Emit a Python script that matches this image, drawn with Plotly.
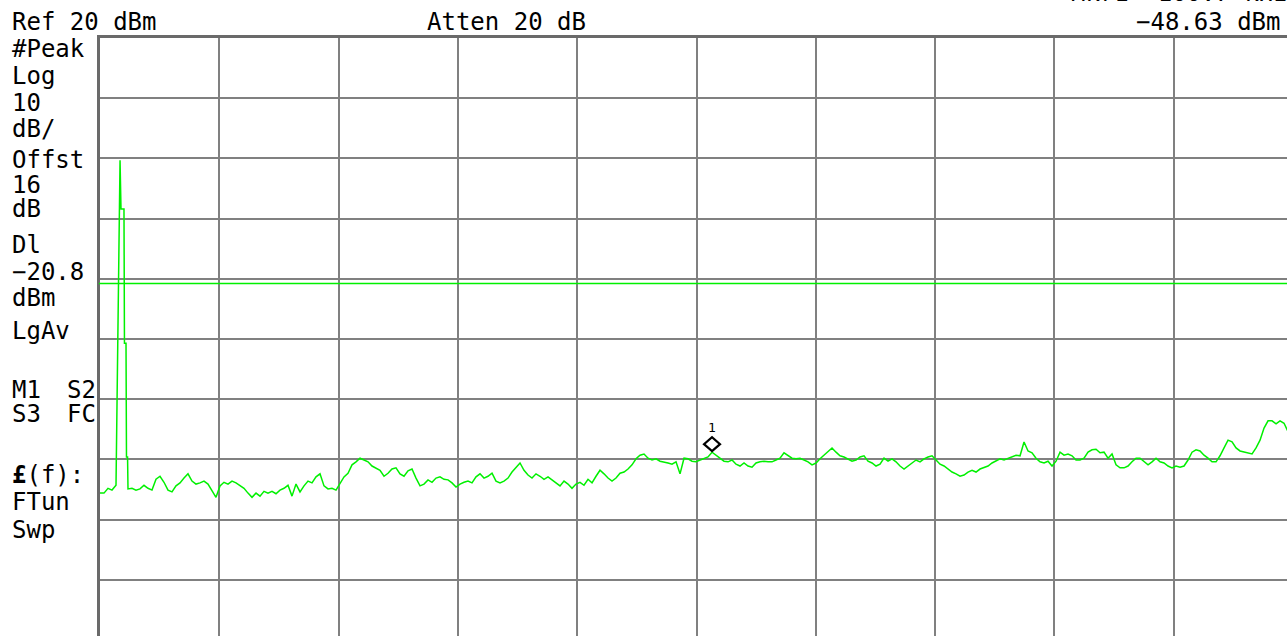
import numpy as np
import plotly.graph_objects as go

# ---------------- data ----------------
ref_level_dbm = 20
db_per_div = 10
display_line_dbm = -20.8
marker_freq_div = 5.13
marker_level_dbm = -48.63
marker_readout = "−48.63 dBm"
marker_header = "Mkr1  100.7 kHz"

bin_step_div = 0.03353          # spacing of trace bins (divisions)

left_noise_dbm = [-55.6, -55.6, -54.8, -55.1, -54.3]

carrier_freq_div = [0.168, 0.176, 0.201, 0.205, 0.218, 0.222, 0.231]
carrier_dbm = [-0.3, -8.4, -8.4, -30.7, -30.7, -49.6, -49.6]

main_start_div = 0.2347
main_noise_dbm = [
    -54.9, -54.8, -55.1, -54.9, -54.3, -54.8, -55.1, -53.3, -52.8, -53.8,
    -55.1, -55.4, -54.4, -53.9, -53.1, -52.4, -53.6, -54.1, -53.9, -53.6,
    -54.1, -55.1, -56.3, -54.4, -53.8, -54.1, -53.6, -53.9, -54.4, -54.8,
    -55.6, -56.3, -55.6, -56.1, -55.3, -55.6, -55.3, -55.7, -55.1, -54.8,
    -54.3, -56.1, -54.1, -55.4, -54.4, -53.6, -53.9, -52.9, -52.4, -54.4,
    -54.9, -54.8, -55.1, -54.1, -52.9, -52.3, -50.9, -50.4, -49.8, -50.1,
    -50.4, -51.1, -51.4, -51.8, -52.8, -52.3, -51.6, -51.4, -52.4, -52.8,
    -51.9, -51.6, -53.1, -54.4, -54.1, -53.4, -53.8, -53.1, -52.9, -53.3,
    -53.4, -53.9, -54.6, -54.1, -53.8, -53.6, -53.9, -52.9, -52.4, -53.1,
    -52.8, -52.3, -53.6, -53.9, -53.6, -53.1, -52.1, -51.4, -50.6, -51.8,
    -52.6, -53.1, -52.4, -52.8, -53.3, -52.9, -53.4, -53.9, -54.4, -53.6,
    -54.1, -54.8, -54.1, -53.8, -54.3, -53.3, -53.9, -52.8, -51.8, -52.4,
    -53.1, -53.6, -53.1, -52.3, -52.1, -51.6, -50.9, -49.9, -49.3, -49.1,
    -49.8, -50.1, -49.9, -50.3, -50.4, -50.6, -50.8, -50.4, -52.4, -49.8,
    -49.9, -50.3, -50.4, -50.1, -49.8, -49.6, -48.8, -49.3, -49.9, -50.3,
    -50.4, -50.1, -50.8, -51.1, -50.6, -51.1, -51.3, -50.6, -50.4, -50.3,
    -50.4, -50.4, -50.1, -49.8, -48.9, -49.3, -49.8, -49.9, -49.8, -50.1,
    -50.4, -50.9, -50.6, -49.9, -49.3, -48.6, -48.1, -48.8, -49.4, -49.6,
    -49.9, -50.3, -50.1, -49.6, -49.4, -50.3, -50.6, -51.1, -50.8, -49.8,
    -50.3, -49.9, -50.4, -51.1, -51.6, -51.1, -50.6, -50.1, -50.4, -49.9,
    -49.6, -49.4, -50.1, -50.8, -51.1, -51.6, -52.1, -52.4, -52.8, -52.6,
    -52.1, -51.8, -52.1, -51.6, -51.4, -51.1, -50.6, -50.3, -49.9, -50.1,
    -49.8, -49.6, -49.3, -49.4, -47.1, -48.6, -48.9, -49.8, -50.4, -50.6,
    -50.3, -51.1, -50.3, -48.8, -49.3, -49.1, -49.4, -50.1, -50.1, -49.8,
    -48.8, -48.4, -48.3, -48.9, -48.8, -49.8, -49.1, -50.9, -51.4, -51.4,
    -51.1, -50.4, -49.8, -49.8, -50.4, -50.9, -50.4, -49.8, -50.4, -50.6,
    -51.1, -51.4, -51.1, -51.3, -51.1, -50.1, -48.8, -48.4, -48.6, -49.3,
    -49.8, -50.4, -50.4, -49.4, -48.1, -46.8, -47.1, -48.1, -48.6, -48.8,
    -48.9, -49.1, -48.1, -46.8, -44.8, -43.6, -43.6, -44.1, -43.6, -44.0,
    -45.4,
]

left_labels = ["#Peak", "Log", "10", "dB/", "Offst", "16", "dB", "Dl",
               "−20.8", "dBm", "LgAv", "M1", "S3", "<b>£</b>(f):", "FTun", "Swp"]
right_col_labels = ["S2", "FC"]
header_left = "Ref 20 dBm"
header_mid = "Atten 20 dB"

# ---------------- layout constants ----------------
FIG_W, FIG_H = 1287, 636
L, T = 100, 38
PX_PER_DIV_X = 119.3
PX_PER_DB = 6.02
PW, PH = FIG_W - L, FIG_H - T

x_max = PW / PX_PER_DIV_X
y_min = ref_level_dbm - PH / PX_PER_DB

def px(x):
    return (x - L) / PW

def py(y):
    return 1 - (y - T) / PH

left_freq = np.arange(len(left_noise_dbm)) * bin_step_div
main_freq = main_start_div + np.arange(len(main_noise_dbm)) * bin_step_div
trace_x = np.concatenate([left_freq, carrier_freq_div, main_freq])
trace_y = np.concatenate([left_noise_dbm, carrier_dbm, main_noise_dbm])

GREEN = "#00f000"
fig = go.Figure()
fig.add_trace(go.Scatter(x=trace_x, y=trace_y, mode="lines",
                         line=dict(color=GREEN, width=1.5), hoverinfo="skip"))

fig.add_shape(type="line", xref="paper", yref="y", x0=-0.001, x1=1,
              y0=display_line_dbm, y1=display_line_dbm,
              line=dict(color=GREEN, width=1.5))

# marker diamond (drawn above the marker point)
fig.add_shape(type="path", xref="x", yref="y", xsizemode="pixel", ysizemode="pixel",
              xanchor=marker_freq_div, yanchor=marker_level_dbm,
              path="M 0 0 L 8 7 L 0 14 L -8 7 Z",
              line=dict(color="black", width=2.2), fillcolor="rgba(0,0,0,0)")

FONT = "DejaVu Sans Mono"
FS = 24
ann = []
def add_text(t, x, y, anchor="left", size=FS, xref="paper", yref="paper"):
    ann.append(dict(text=t, x=x, y=y, xref=xref, yref=yref, xanchor=anchor,
                    yanchor="middle", showarrow=False,
                    font=dict(family=FONT, size=size, color="black")))

add_text(header_left, px(10), py(22))
add_text(header_mid, px(425), py(22))
add_text(marker_readout, px(1283), py(22), anchor="right")
add_text(marker_header, px(1290), py(-7), anchor="right")

left_y = [48.5, 76, 103.5, 129, 160, 185, 209, 245, 271.5, 297.5, 331,
          389.5, 414, 475, 501.5, 529.5]
for t, y in zip(left_labels, left_y):
    add_text(t, px(10), py(y))
for t, y in zip(right_col_labels, [389.5, 414]):
    add_text(t, px(98), py(y), anchor="right")

ann.append(dict(text="1", x=marker_freq_div, y=marker_level_dbm, xref="x", yref="y",
                xanchor="center", yanchor="middle", yshift=24, showarrow=False,
                font=dict(family=FONT, size=13, color="black")))

fig.update_layout(
    width=FIG_W, height=FIG_H,
    margin=dict(l=L, r=0, t=T, b=0, pad=0),
    paper_bgcolor="white", plot_bgcolor="white",
    showlegend=False, annotations=ann,
)
fig.update_xaxes(range=[0, x_max], dtick=1, tick0=0, showgrid=True,
                 gridcolor="#808080", gridwidth=2, showticklabels=False,
                 ticks="", zeroline=False, showline=True, linecolor="#6a6a6a",
                 linewidth=3, side="top", mirror=False)
fig.update_yaxes(range=[y_min, ref_level_dbm], dtick=db_per_div, tick0=ref_level_dbm,
                 showgrid=True, gridcolor="#808080", gridwidth=2,
                 showticklabels=False, ticks="", zeroline=False, showline=True,
                 linecolor="#6a6a6a", linewidth=3)

fig.write_html("out.html", config={"displayModeBar": False},
               post_script="document.body.style.margin='0';document.body.style.overflow='hidden';")
